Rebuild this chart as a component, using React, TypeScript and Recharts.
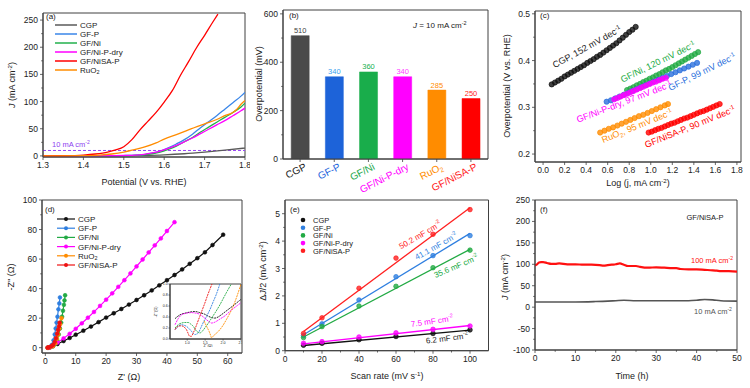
import React from 'react';
import {
  LineChart, Line, XAxis, YAxis, BarChart, Bar, Cell, LabelList,
  ScatterChart, Scatter, ComposedChart, ReferenceLine, ReferenceArea,
} from 'recharts';

const FONT = '"Liberation Sans", Arial, Helvetica, sans-serif';
const AX = '#404040';
const TXT = '#222';

type Pt = [number, number];
const xy = (a: Pt[]) => a.map(([x, y]) => ({ x, y }));

// ---------- (a) LSV curves [potential V, J mA cm-2]
const lsvCGP: Pt[] = [[1.3, 0], [1.4, 0.1], [1.5, 0.4], [1.55, 0.9], [1.6, 2], [1.65, 4], [1.7, 7], [1.75, 10.5], [1.8, 14.5]];
const lsvGFP: Pt[] = [[1.3, 0], [1.45, 0.3], [1.5, 0.7], [1.53, 1.4], [1.55, 2.5], [1.57, 5], [1.59, 9], [1.61, 15], [1.63, 22], [1.65, 30], [1.67, 40], [1.69, 52], [1.71, 63], [1.73, 74], [1.75, 86], [1.77, 98], [1.79, 110], [1.8, 117]];
const lsvGFNi: Pt[] = [[1.3, 0], [1.45, 0.2], [1.5, 0.5], [1.53, 1], [1.55, 2], [1.57, 4], [1.59, 7], [1.61, 12], [1.63, 18], [1.65, 26], [1.67, 34], [1.69, 44], [1.71, 53], [1.73, 62], [1.75, 71], [1.77, 80], [1.79, 90], [1.8, 97]];
const lsvNiPdry: Pt[] = [[1.3, 0], [1.45, 0.3], [1.5, 0.8], [1.53, 1.5], [1.55, 3], [1.57, 5.5], [1.59, 9], [1.61, 14], [1.63, 19.5], [1.65, 26], [1.67, 33], [1.69, 41], [1.71, 49], [1.73, 57], [1.75, 65], [1.77, 74], [1.79, 83], [1.8, 88]];
const lsvNiSAP: Pt[] = [[1.3, 0], [1.35, 0.3], [1.4, 1.5], [1.43, 3.5], [1.46, 7], [1.48, 11], [1.5, 17], [1.52, 30], [1.54, 48], [1.56, 64], [1.58, 80], [1.6, 99], [1.62, 120], [1.64, 148], [1.66, 173], [1.68, 199], [1.7, 222], [1.72, 246], [1.733, 261]];
const lsvRuO2: Pt[] = [[1.3, 0], [1.4, 0.5], [1.44, 1.5], [1.47, 3.5], [1.5, 7], [1.52, 10.5], [1.55, 16], [1.58, 24], [1.6, 31], [1.63, 39], [1.66, 48], [1.7, 59], [1.73, 67], [1.75, 74], [1.77, 80], [1.78, 86], [1.79, 95], [1.8, 102]];
const lsvXTicks = [1.3, 1.4, 1.5, 1.6, 1.7, 1.8];
const lsvYTicks = [0, 50, 100, 150, 200, 250];
const lsvYMinor = [25, 75, 125, 175, 225];

// ---------- (b) overpotential @ 10 mA cm-2
const barCats = ['CGP', 'GF-P', 'GF/Ni', 'GF/Ni-P-dry', 'RuO_{2}', 'GF/NiSA-P'];
const barVals = [510, 340, 360, 340, 285, 250];
const barFill = ['#4a4a4a', '#1d63d9', '#19ad4b', '#ff00ff', '#ff8c00', '#ff0000'];
const barTickColor = ['#222', '#1f66dd', '#1ca84a', '#ff00ff', '#ff8c00', '#ff1a1a'];
const barLabelColor = ['#444', '#3aa0ee', '#20b050', '#ff40ff', '#ff8c00', '#ff2222'];
const barYTicks = [0, 200, 400, 600];
const barYMinor = [100, 300, 500];

// ---------- (c) Tafel [log j, overpotential V]
const tafCGP: Pt[] = [[0.08, 0.349], [0.11, 0.353], [0.14, 0.357], [0.17, 0.361], [0.2, 0.366], [0.23, 0.37], [0.26, 0.374], [0.29, 0.378], [0.32, 0.382], [0.35, 0.386], [0.38, 0.39], [0.41, 0.395], [0.44, 0.399], [0.47, 0.403], [0.5, 0.408], [0.53, 0.412], [0.56, 0.417], [0.59, 0.422], [0.62, 0.427], [0.65, 0.432], [0.68, 0.437], [0.71, 0.443], [0.74, 0.449], [0.77, 0.455], [0.8, 0.461], [0.83, 0.466], [0.86, 0.472]];
const tafGFNi: Pt[] = [[0.78, 0.337], [0.81, 0.34], [0.84, 0.343], [0.87, 0.347], [0.9, 0.35], [0.93, 0.354], [0.96, 0.357], [0.99, 0.361], [1.02, 0.364], [1.05, 0.368], [1.08, 0.371], [1.11, 0.375], [1.14, 0.379], [1.17, 0.382], [1.2, 0.386], [1.23, 0.39], [1.26, 0.394], [1.29, 0.398], [1.32, 0.402], [1.35, 0.406], [1.38, 0.41], [1.41, 0.414], [1.44, 0.418]];
const tafGFP: Pt[] = [[0.59, 0.312], [0.63, 0.315], [0.67, 0.319], [0.71, 0.323], [0.75, 0.327], [0.79, 0.331], [0.83, 0.335], [0.87, 0.339], [0.91, 0.343], [0.95, 0.347], [0.99, 0.351], [1.03, 0.355], [1.07, 0.359], [1.11, 0.363], [1.15, 0.367], [1.19, 0.371], [1.23, 0.375], [1.27, 0.379], [1.31, 0.383], [1.35, 0.387], [1.39, 0.391], [1.43, 0.395]];
const tafNiPdry: Pt[] = [[0.66, 0.317], [0.69, 0.32], [0.72, 0.323], [0.75, 0.326], [0.78, 0.329], [0.81, 0.332], [0.84, 0.335], [0.87, 0.338], [0.9, 0.341], [0.93, 0.344], [0.96, 0.347], [0.99, 0.35], [1.02, 0.353], [1.05, 0.355], [1.08, 0.358], [1.11, 0.361], [1.14, 0.363]];
const tafRuO2: Pt[] = [[0.53, 0.246], [0.57, 0.25], [0.61, 0.254], [0.65, 0.257], [0.69, 0.261], [0.73, 0.265], [0.77, 0.269], [0.81, 0.273], [0.85, 0.277], [0.89, 0.281], [0.93, 0.284], [0.97, 0.288], [1.01, 0.292], [1.05, 0.296], [1.09, 0.3], [1.13, 0.304], [1.16, 0.307]];
const tafNiSAP: Pt[] = [[0.98, 0.246], [1.01, 0.248], [1.04, 0.251], [1.07, 0.254], [1.1, 0.256], [1.13, 0.259], [1.16, 0.262], [1.19, 0.265], [1.22, 0.267], [1.25, 0.27], [1.28, 0.273], [1.31, 0.276], [1.34, 0.278], [1.37, 0.281], [1.4, 0.284], [1.43, 0.287], [1.46, 0.29], [1.49, 0.292], [1.52, 0.295], [1.55, 0.298], [1.58, 0.301], [1.61, 0.304], [1.64, 0.307]];
const tafXTicks = [0, 0.2, 0.4, 0.6, 0.8, 1.0, 1.2, 1.4, 1.6, 1.8];
const tafYTicks = [0.2, 0.3, 0.4, 0.5];
const tafYMinor = [0.25, 0.35, 0.45];

// ---------- (d) Nyquist [Z', -Z'']
const eisCGP: Pt[] = [[1, 0], [1.6, 0.3], [2.5, 1], [4, 2.5], [6, 4.5], [8, 6.6], [10, 8.8], [12.5, 11.5], [15, 14.3], [17.5, 17.3], [20, 20.4], [22.5, 23.3], [25, 26.2], [27.5, 29.2], [30, 32.3], [32.5, 35.5], [35, 38.8], [37.5, 42.2], [40, 45.7], [42.5, 49.2], [45, 53], [47.5, 56.8], [50, 60.6], [52.5, 64.6], [55, 69.5], [58.5, 76.5]];
const eisGFP: Pt[] = [[0.8, 0], [1.5, 0.5], [2.2, 2], [2.7, 5], [3.1, 9], [3.4, 13], [3.7, 17], [4.0, 21], [4.3, 26], [4.6, 30], [4.8, 34]];
const eisGFNi: Pt[] = [[0.8, 0], [1.5, 0.3], [2.5, 1], [3.3, 2.5], [3.9, 5], [4.4, 9], [4.8, 13], [5.2, 17], [5.5, 21], [5.8, 25], [6.1, 29], [6.3, 32], [6.5, 35.5]];
const eisNiPdry: Pt[] = [[1, 0], [1.6, 0.4], [2.5, 1.5], [4, 3.5], [6, 6.3], [8, 9.4], [10, 12.8], [12, 16.5], [14, 20.3], [16, 24.2], [18, 28.3], [20, 32.5], [22, 36.8], [24, 41.2], [26, 45.7], [28, 50.3], [30, 55], [32, 59.7], [34, 64.5], [36, 69.3], [38, 74], [40, 79], [42.5, 85]];
const eisRuO2: Pt[] = [[0.8, 0], [1.5, 0.3], [2.5, 1], [3.3, 3], [3.8, 6], [4.2, 9], [4.6, 13], [4.9, 16], [5.3, 20]];
const eisNiSAP: Pt[] = [[0.7, 0], [1.2, 0.3], [2, 1], [2.6, 2], [3.1, 4], [3.5, 6.5], [3.9, 9.5], [4.2, 12], [4.5, 14.5], [4.7, 17]];
const eisXTicks = [0, 10, 20, 30, 40, 50, 60];
const eisYTicks = [0, 20, 40, 60, 80, 100];
const eisYMinor = [10, 30, 50, 70, 90];
// inset, high-frequency region
const insCGP: Pt[] = [[0.66, 0.37], [0.8, 0.44], [0.94, 0.47], [1.08, 0.49], [1.21, 0.5], [1.35, 0.48], [1.49, 0.45], [1.6, 0.41], [1.68, 0.39], [1.77, 0.38], [1.86, 0.4], [1.95, 0.44], [2.07, 0.5], [2.19, 0.56], [2.33, 0.63], [2.46, 0.7], [2.5, 0.72]];
const insNiPdry: Pt[] = [[0.66, 0.26], [0.75, 0.37], [0.84, 0.44], [0.98, 0.47], [1.12, 0.48], [1.24, 0.47], [1.35, 0.45], [1.45, 0.4], [1.54, 0.35], [1.62, 0.31], [1.68, 0.29], [1.75, 0.3], [1.81, 0.32], [1.93, 0.37], [2.05, 0.42], [2.17, 0.49], [2.28, 0.55], [2.4, 0.61], [2.5, 0.66]];
const insGFNi: Pt[] = [[0.66, 0.2], [0.75, 0.26], [0.84, 0.29], [0.94, 0.3], [1.03, 0.3], [1.1, 0.27], [1.17, 0.23], [1.22, 0.18], [1.26, 0.14], [1.31, 0.12], [1.35, 0.11], [1.42, 0.14], [1.49, 0.2], [1.58, 0.28], [1.68, 0.38], [1.8, 0.5], [1.91, 0.62], [2.0, 0.73], [2.09, 0.84], [2.23, 1.0]];
const insGFP: Pt[] = [[0.66, 0.17], [0.75, 0.23], [0.84, 0.26], [0.91, 0.25], [0.98, 0.23], [1.05, 0.19], [1.12, 0.14], [1.17, 0.1], [1.21, 0.08], [1.26, 0.09], [1.31, 0.11], [1.37, 0.19], [1.44, 0.29], [1.53, 0.4], [1.63, 0.53], [1.72, 0.67], [1.81, 0.81], [1.91, 1.0]];
const insNiSAP: Pt[] = [[0.66, 0.17], [0.7, 0.21], [0.75, 0.23], [0.82, 0.24], [0.89, 0.23], [0.94, 0.2], [0.98, 0.17], [1.02, 0.11], [1.07, 0.05], [1.12, 0.05], [1.16, 0.1], [1.21, 0.17], [1.28, 0.29], [1.35, 0.41], [1.42, 0.53], [1.49, 0.65], [1.56, 0.78], [1.63, 0.9], [1.69, 1.0]];
const insRuO2: Pt[] = [[1.47, 0.33], [1.51, 0.27], [1.54, 0.23], [1.58, 0.18], [1.61, 0.14], [1.65, 0.07], [1.68, 0.02], [1.72, 0.05], [1.77, 0.08], [1.84, 0.12], [1.91, 0.17], [2.0, 0.25], [2.09, 0.35], [2.19, 0.47], [2.28, 0.59], [2.35, 0.71], [2.42, 0.84], [2.5, 1.0]];

// ---------- (e) double-layer capacitance
const scanRates = [10, 20, 40, 60, 80, 100];
const cdlCGP = [0.2, 0.27, 0.4, 0.52, 0.63, 0.76];
const cdlGFP = [0.55, 0.98, 1.85, 2.7, 3.47, 4.2];
const cdlGFNi = [0.48, 0.88, 1.63, 2.35, 3.03, 3.67];
const cdlNiPdry = [0.27, 0.33, 0.5, 0.65, 0.78, 0.9];
const cdlNiSAP = [0.63, 1.2, 2.28, 3.38, 4.25, 5.15];
const fitX = [10, 100];
const fitCGP = [0.19, 0.75];
const fitGFP = [0.58, 4.28];
const fitGFNi = [0.5, 3.7];
const fitNiPdry = [0.25, 0.92];
const fitNiSAP = [0.7, 5.22];

// ---------- (f) chronopotentiometry [time h, J]
const stab100: Pt[] = [[0, 97], [0.5, 100], [1, 104], [1.5, 105], [2, 105], [3, 103], [4, 101], [5, 101], [6, 102], [8, 100], [10, 100], [12, 99], [14, 99], [16, 98], [17, 97], [18, 98], [19, 99], [20, 100], [21, 102], [22, 99], [23, 96], [24, 96], [25, 96], [26, 94], [28, 92], [30, 93], [32, 92], [34, 91], [35, 91], [36, 89], [38, 88], [40, 88], [42, 87], [44, 86], [45, 85], [46, 84], [48, 84], [50, 83]];
const stab10: Pt[] = [[0, 12], [5, 12], [10, 12], [15, 13], [18, 14], [20, 15], [22, 16], [25, 15], [30, 15], [35, 15], [38, 15], [40, 16], [42, 18], [44, 17], [46, 15], [50, 14]];
const stabXTicks = [0, 10, 20, 30, 40, 50];
const stabXMinor = [5, 15, 25, 35, 45];
const stabYTicks = [-100, -50, 0, 50, 100, 150, 200, 250];
const stabYMinor = [-75, -25, 25, 75, 125, 175, 225];

// ---------- helpers
function Rich({ s, size }: { s: string; size: number }) {
  const parts = s.split(/(\^\{[^}]*\}|_\{[^}]*\}|\*[^*]+\*)/).filter((p) => p !== '');
  let cur = 0;
  return (
    <>
      {parts.map((p, i) => {
        let target = 0;
        let txt = p;
        let fs: number | undefined;
        let it = false;
        if (p.startsWith('^{')) { target = -size * 0.38; txt = p.slice(2, -1); fs = size * 0.68; }
        else if (p.startsWith('_{')) { target = size * 0.22; txt = p.slice(2, -1); fs = size * 0.68; }
        else if (p.startsWith('*')) { txt = p.slice(1, -1); it = true; }
        const dy = target - cur;
        cur = target;
        return <tspan key={i} dy={dy} fontSize={fs} fontStyle={it ? 'italic' : undefined}>{txt}</tspan>;
      })}
    </>
  );
}

function T({ x, y, s, size = 8, color = TXT, anchor = 'start', angle = 0, mid = false }:
  { x: number; y: number; s: string; size?: number; color?: string; anchor?: 'start' | 'middle' | 'end'; angle?: number; mid?: boolean }) {
  return (
    <text x={x} y={y} fontSize={size} fill={color} textAnchor={anchor} fontFamily={FONT}
      dominantBaseline={mid ? 'central' : undefined}
      transform={angle ? `rotate(${angle} ${x} ${y})` : undefined}>
      <Rich s={s} size={size} />
    </text>
  );
}

type TickCfg = { minor?: number[]; fmt?: (v: number) => string; size?: number; len?: number; gap?: number; mlen?: number };
const near = (arr: number[], v: number) => arr.some((m) => Math.abs(m - v) < 1e-6);

const yTick = (c: TickCfg) => (p: any) => {
  const { minor = [], fmt = (v: number) => String(v), size = 8.5, len = 3, gap = 2, mlen = 1.8 } = c;
  const v = Number(p.payload.value);
  const isMinor = near(minor, v);
  const ax = p.x + len + gap;
  return (
    <g>
      <line x1={ax - (isMinor ? mlen : len)} y1={p.y} x2={ax} y2={p.y} stroke={AX} strokeWidth={0.8} />
      {!isMinor && (
        <text x={p.x} y={p.y} dy="0.36em" textAnchor="end" fontSize={size} fill={TXT} fontFamily={FONT}>{fmt(v)}</text>
      )}
    </g>
  );
};

const xTick = (c: TickCfg) => (p: any) => {
  const { minor = [], fmt = (v: number) => String(v), size = 8.5, len = 3, gap = 2, mlen = 1.8 } = c;
  const v = Number(p.payload.value);
  const isMinor = near(minor, v);
  const ay = p.y - len - gap;
  return (
    <g>
      <line x1={p.x} y1={ay} x2={p.x} y2={ay + (isMinor ? mlen : len)} stroke={AX} strokeWidth={0.8} />
      {!isMinor && (
        <text x={p.x} y={p.y} dy="0.72em" textAnchor="middle" fontSize={size} fill={TXT} fontFamily={FONT}>{fmt(v)}</text>
      )}
    </g>
  );
};

const ax = { stroke: AX, tickLine: false, allowDataOverflow: true, interval: 0 as const, tickSize: 3, tickMargin: 2 };
const allTicks = (a: number[], b: number[] = []) => [...a, ...b].sort((p, q) => p - q);

// closed box around the plot area
const frame = (xd: number[] | null, yd: number[]) => (
  <ReferenceArea
    x1={xd ? xd[0] : undefined} x2={xd ? xd[1] : undefined} y1={yd[0]} y2={yd[1]}
    fill="none" fillOpacity={0} stroke={AX} strokeWidth={1} ifOverflow="visible" />
);

const dotShape = (color: string, r = 2.6) => (p: any) => (
  <circle cx={p.cx} cy={p.cy} r={r} fill={color} fillOpacity={0.8} stroke={color} strokeWidth={0.7} />
);

// ---------- panels
const lsvSeries = [
  { name: 'CGP', data: lsvCGP, color: '#5a5a5a' },
  { name: 'GF-P', data: lsvGFP, color: '#3a86e8' },
  { name: 'GF/Ni', data: lsvGFNi, color: '#22b14c' },
  { name: 'GF/Ni-P-dry', data: lsvNiPdry, color: '#ff00ff' },
  { name: 'GF/NiSA-P', data: lsvNiSAP, color: '#ff0000' },
  { name: 'RuO_{2}', data: lsvRuO2, color: '#ff8c00' },
];

function PanelA() {
  const xd = [1.3, 1.8];
  const yd = [-2, 263];
  return (
    <LineChart width={250} height={194} margin={{ top: 13, right: 5, left: 13, bottom: 0 }}>
      <XAxis dataKey="x" type="number" domain={xd} ticks={lsvXTicks} height={37}
        tick={xTick({ fmt: (v) => v.toFixed(1) })} {...ax} />
      <YAxis type="number" domain={yd} ticks={allTicks(lsvYTicks, lsvYMinor)} width={30}
        tick={yTick({ minor: lsvYMinor })} {...ax} />
      {frame(xd, yd)}
      <ReferenceLine y={10} stroke="#9a45f5" strokeDasharray="3 2" strokeWidth={1} />
      {lsvSeries.map((s) => (
        <Line key={s.name} data={xy(s.data)} dataKey="y" stroke={s.color} strokeWidth={1.3}
          dot={false} type="monotone" isAnimationActive={false} />
      ))}
      <T x={46} y={19} s="(a)" />
      <T x={15} y={85} s="*J* (mA cm^{-2})" size={9} anchor="middle" angle={-90} />
      <T x={144} y={185} s="Potential (V vs. RHE)" size={9} anchor="middle" />
      <T x={52} y={147} s="10 mA cm^{-2}" size={7.5} color="#8e3ff0" />
      {lsvSeries.map((s, i) => (
        <g key={'lg' + s.name}>
          <line x1={55} x2={77} y1={25 + 9 * i} y2={25 + 9 * i} stroke={s.color} strokeWidth={1.5} />
          <T x={80} y={25 + 9 * i} s={s.name} size={8} mid />
        </g>
      ))}
    </LineChart>
  );
}

const barData = barCats.map((name, i) => ({ name, v: barVals[i] }));

const barTick = (p: any) => {
  const i = barCats.indexOf(p.payload.value);
  const ay = p.y - 5;
  const tx = p.x + 7;
  const ty = ay + 10;
  return (
    <g>
      <line x1={p.x} x2={p.x} y1={ay} y2={ay + 3} stroke={AX} strokeWidth={0.8} />
      <text x={tx} y={ty} textAnchor="end" fontSize={10} fill={barTickColor[i]} fontFamily={FONT}
        transform={`rotate(-27 ${tx} ${ty})`}>
        <Rich s={p.payload.value} size={10} />
      </text>
    </g>
  );
};

const barLabel = (p: any) => (
  <text x={p.x + p.width / 2} y={p.y - 2.5} textAnchor="middle" fontSize={7.5}
    fill={barLabelColor[p.index] ?? '#444'} fontFamily={FONT}>{p.value}</text>
);

function PanelB() {
  const yd = [0, 616];
  return (
    <BarChart width={250} height={194} data={barData} margin={{ top: 10, right: 12, left: 3, bottom: 0 }}
      barCategoryGap="24%">
      <XAxis dataKey="name" height={35} tick={barTick} {...ax} />
      <YAxis type="number" domain={yd} ticks={allTicks(barYTicks, barYMinor)} width={30}
        tick={yTick({ minor: barYMinor })} {...ax} />
      {frame(null, yd)}
      <Bar dataKey="v" isAnimationActive={false}>
        {barData.map((d, i) => <Cell key={d.name} fill={barFill[i]} stroke={barFill[i]} strokeOpacity={0.5} />)}
        <LabelList dataKey="v" content={barLabel} />
      </Bar>
      <T x={39} y={18} s="(b)" />
      <T x={12} y={84} s="Overpotential (mV)" size={9} anchor="middle" angle={-90} />
      <T x={163} y={28} s="*J* = 10 mA cm^{-2}" size={8} />
    </BarChart>
  );
}

const tafSeries = [
  { name: 'CGP', data: tafCGP, color: '#111111' },
  { name: 'GF/Ni', data: tafGFNi, color: '#22aa44' },
  { name: 'GF-P', data: tafGFP, color: '#2a6fdc' },
  { name: 'GF/Ni-P-dry', data: tafNiPdry, color: '#ff00ff' },
  { name: 'RuO2', data: tafRuO2, color: '#ff8c00' },
  { name: 'GF/NiSA-P', data: tafNiSAP, color: '#ff0000' },
];

function PanelC() {
  const xd = [-0.075, 1.838];
  const yd = [0.183, 0.506];
  return (
    <ScatterChart width={250} height={194} margin={{ top: 11, right: 9, left: 5, bottom: 0 }}>
      <XAxis dataKey="x" type="number" domain={xd} ticks={tafXTicks} height={32}
        tick={xTick({ fmt: (v) => v.toFixed(1) })} {...ax} />
      <YAxis dataKey="y" type="number" domain={yd} ticks={allTicks(tafYTicks, tafYMinor)} width={30}
        tick={yTick({ minor: tafYMinor, fmt: (v) => v.toFixed(1) })} {...ax} />
      {frame(xd, yd)}
      {tafSeries.map((s) => (
        <Scatter key={s.name} data={xy(s.data)} shape={dotShape(s.color)} isAnimationActive={false} />
      ))}
      <T x={40} y={18} s="(c)" />
      <T x={10} y={86} s="Overpotential (V vs. RHE)" size={9} anchor="middle" angle={-90} />
      <T x={138} y={186} s="Log (j, mA cm^{-2})" size={9} anchor="middle" />
      <T x={87} y={47} s="CGP, 152 mV dec^{-1}" size={9} anchor="middle" angle={-29} mid />
      <T x={158} y={62} s="GF/Ni, 120 mV dec^{-1}" size={9} color="#22aa44" anchor="middle" angle={-26} mid />
      <T x={202} y={72} s="GF-P, 99 mV dec^{-1}" size={9} color="#2a6fdc" anchor="middle" angle={-26} mid />
      <T x={124} y={102} s="GF/Ni-P-dry, 97 mV dec^{-1}" size={9} color="#ff00ff" anchor="middle" angle={-21} mid />
      <T x={137} y={126} s="RuO_{2}, 95 mV dec^{-1}" size={9} color="#ff8c00" anchor="middle" angle={-22} mid />
      <T x={190} y={127} s="GF/NiSA-P, 90 mV dec^{-1}" size={9} color="#ff0000" anchor="middle" angle={-22} mid />
    </ScatterChart>
  );
}

const eisSeries = [
  { name: 'CGP', data: eisCGP, inset: insCGP, color: '#111111' },
  { name: 'GF-P', data: eisGFP, inset: insGFP, color: '#2f7fe0' },
  { name: 'GF/Ni', data: eisGFNi, inset: insGFNi, color: '#22aa44' },
  { name: 'GF/Ni-P-dry', data: eisNiPdry, inset: insNiPdry, color: '#ff00ff' },
  { name: 'RuO_{2}', data: eisRuO2, inset: insRuO2, color: '#ff8c00' },
  { name: 'GF/NiSA-P', data: eisNiSAP, inset: insNiSAP, color: '#ee1111' },
];

function PanelD() {
  const xd = [-1.1, 64.7];
  const yd = [-3.6, 100];
  return (
    <LineChart width={250} height={194} margin={{ top: 6, right: 8, left: 12, bottom: 0 }}>
      <XAxis dataKey="x" type="number" domain={xd} ticks={eisXTicks} height={35}
        tick={xTick({})} {...ax} />
      <YAxis type="number" domain={yd} ticks={allTicks(eisYTicks, eisYMinor)} width={30}
        tick={yTick({ minor: eisYMinor })} {...ax} />
      {frame(xd, yd)}
      {eisSeries.map((s) => (
        <Line key={s.name} data={xy(s.data)} dataKey="y" stroke={s.color} strokeWidth={1.2} type="linear"
          dot={{ r: 1.9, fill: s.color, stroke: s.color, strokeWidth: 0.6 }} isAnimationActive={false} />
      ))}
      <T x={45} y={18} s="(d)" />
      <T x={14} y={83} s="-Z'' (Ω)" size={9} anchor="middle" angle={-90} />
      <T x={129} y={186} s="Z' (Ω)" size={9} anchor="middle" />
      {eisSeries.map((s, i) => (
        <g key={'lg' + s.name}>
          <line x1={57} x2={75} y1={25 + 9.2 * i} y2={25 + 9.2 * i} stroke={s.color} strokeWidth={1.2} />
          <circle cx={66} cy={25 + 9.2 * i} r={2} fill={s.color} />
          <T x={78} y={25 + 9.2 * i} s={s.name} size={8} mid />
        </g>
      ))}
    </LineChart>
  );
}

function InsetD() {
  const small = { size: 3.6, len: 1.5, gap: 0.8, mlen: 1 };
  const xd = [0.52, 2.5];
  const yd = [0, 1];
  return (
    <LineChart width={92} height={69} margin={{ top: 6, right: 1, left: 12, bottom: 0 }}>
      <XAxis dataKey="x" type="number" domain={xd} ticks={[1, 1.5, 2, 2.5]} height={8}
        tick={xTick({ ...small, fmt: (v) => v.toFixed(1) })} {...ax} tickSize={1.5} tickMargin={0.8} />
      <YAxis type="number" domain={yd} ticks={[0, 0.2, 0.4, 0.6, 0.8, 1]} width={8}
        tick={yTick({ ...small, fmt: (v) => v.toFixed(1) })} {...ax} tickSize={1.5} tickMargin={0.8} />
      {frame(xd, yd)}
      {eisSeries.map((s) => (
        <Line key={s.name} data={xy(s.inset)} dataKey="y" stroke={s.color} strokeWidth={0.9} type="monotone"
          strokeDasharray="2 0.8" dot={false} isAnimationActive={false} />
      ))}
      <T x={7} y={34} s="-Z'' (Ω)" size={3.6} anchor="middle" angle={-90} />
      <T x={58} y={68.5} s="Z' (Ω)" size={3.6} anchor="middle" />
    </LineChart>
  );
}

const cdlSeries = [
  { name: 'CGP', vals: cdlCGP, fit: fitCGP, color: '#111111' },
  { name: 'GF-P', vals: cdlGFP, fit: fitGFP, color: '#2f7fe0' },
  { name: 'GF/Ni', vals: cdlGFNi, fit: fitGFNi, color: '#22aa44' },
  { name: 'GF/Ni-P-dry', vals: cdlNiPdry, fit: fitNiPdry, color: '#ff00ff' },
  { name: 'GF/NiSA-P', vals: cdlNiSAP, fit: fitNiSAP, color: '#ff2020' },
];

function PanelE() {
  const xd = [0, 110];
  const yd = [0, 5.5];
  return (
    <ComposedChart width={250} height={194} margin={{ top: 6, right: 11.5, left: 5, bottom: 0 }}>
      <XAxis dataKey="x" type="number" domain={xd} ticks={allTicks([0, 20, 40, 60, 80, 100], [10, 30, 50, 70, 90])}
        height={37.3} tick={xTick({ minor: [10, 30, 50, 70, 90] })} {...ax} />
      <YAxis type="number" domain={yd} ticks={allTicks([0, 1, 2, 3, 4, 5], [0.5, 1.5, 2.5, 3.5, 4.5])} width={30}
        tick={yTick({ minor: [0.5, 1.5, 2.5, 3.5, 4.5] })} {...ax} />
      {frame(xd, yd)}
      {cdlSeries.map((s) => (
        <Line key={'f' + s.name} data={fitX.map((x, i) => ({ x, y: s.fit[i] }))} dataKey="y" stroke={s.color}
          strokeWidth={1.3} dot={false} type="linear" isAnimationActive={false} />
      ))}
      {cdlSeries.map((s) => (
        <Scatter key={'p' + s.name} data={scanRates.map((x, i) => ({ x, y: s.vals[i] }))} dataKey="y"
          shape={dotShape(s.color, 2.3)} isAnimationActive={false} />
      ))}
      <T x={40} y={18} s="(e)" />
      <T x={16} y={77} s="Δ*J*/2 (mA cm^{-2})" size={9} anchor="middle" angle={-90} />
      <T x={137} y={185} s="Scan rate (mV s^{-1})" size={9} anchor="middle" />
      <T x={170} y={41} s="50.2 mF cm^{-2}" size={8} color="#ff2020" anchor="middle" angle={-30} mid />
      <T x={186} y={52} s="41.1 mF cm^{-2}" size={8} color="#2f7fe0" anchor="middle" angle={-29} mid />
      <T x={206} y={72} s="35.6 mF cm^{-2}" size={8} color="#22aa44" anchor="middle" angle={-23} mid />
      <T x={182} y={127} s="7.5 mF cm^{-2}" size={8} color="#ff00ff" anchor="middle" angle={-8} mid />
      <T x={197} y={144} s="6.2 mF cm^{-2}" size={8} color="#222" anchor="middle" angle={-7} mid />
      {cdlSeries.map((s, i) => (
        <g key={'lg' + s.name}>
          <circle cx={53} cy={26 + 7.7 * i} r={2.3} fill={s.color} />
          <T x={63} y={26 + 7.7 * i} s={s.name} size={7.5} mid />
        </g>
      ))}
    </ComposedChart>
  );
}

function PanelF() {
  const xd = [0, 50];
  const yd = [-100, 250];
  return (
    <LineChart width={250} height={194} margin={{ top: 6, right: 13, left: 5, bottom: 0 }}>
      <XAxis dataKey="x" type="number" domain={xd} ticks={allTicks(stabXTicks, stabXMinor)} height={38}
        tick={xTick({ minor: stabXMinor })} {...ax} />
      <YAxis type="number" domain={yd} ticks={allTicks(stabYTicks, stabYMinor)} width={30}
        tick={yTick({ minor: stabYMinor })} {...ax} />
      {frame(xd, yd)}
      <Line data={xy(stab10)} dataKey="y" stroke="#555555" strokeWidth={1.6} dot={false} type="monotone" isAnimationActive={false} />
      <Line data={xy(stab100)} dataKey="y" stroke="#ff1010" strokeWidth={2.2} dot={false} type="monotone" isAnimationActive={false} />
      <T x={40} y={18} s="(f)" />
      <T x={8} y={83} s="*J* (mA cm^{-2})" size={9} anchor="middle" angle={-90} />
      <T x={132} y={185} s="Time (h)" size={9} anchor="middle" />
      <T x={205} y={26} s="GF/NiSA-P" size={7.5} anchor="middle" />
      <T x={212} y={69} s="100 mA cm^{-2}" size={7.5} color="#ff1010" anchor="middle" />
      <T x={213} y={120} s="10 mA cm^{-2}" size={7.5} color="#555" anchor="middle" />
    </LineChart>
  );
}

const at = (left: number, top: number): React.CSSProperties => ({ position: 'absolute', left, top });

export default function App() {
  return (
    <div style={{ position: 'absolute', left: 0, top: 0, width: 750, height: 388, background: '#fff', fontFamily: FONT, overflow: 'hidden' }}>
      <div style={at(0, 0)}><PanelA /></div>
      <div style={at(250, 0)}><PanelB /></div>
      <div style={at(500, 0)}><PanelC /></div>
      <div style={at(0, 194)}><PanelD /></div>
      <div style={at(150, 278)}><InsetD /></div>
      <div style={at(250, 194)}><PanelE /></div>
      <div style={at(500, 194)}><PanelF /></div>
    </div>
  );
}
